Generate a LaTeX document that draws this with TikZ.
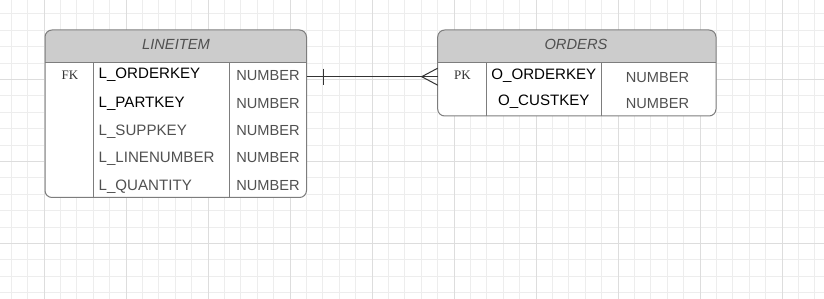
\documentclass[tikz,border=0pt]{standalone}
\usepackage{fontspec}
\newfontfamily\erfont{Liberation Sans}
\newfontfamily\keyfont{Liberation Serif}
\usepackage{tikz}
\usetikzlibrary{positioning, calc}
\definecolor{grisMalla}{RGB}{237,237,237}
\definecolor{grisMallaFuerte}{RGB}{221,221,221}
\definecolor{grisBorde}{RGB}{125,125,125}
\definecolor{grisCabecera}{RGB}{204,204,204}
\definecolor{grisTexto}{RGB}{80,80,80}
\definecolor{grisOscuro}{RGB}{51,51,51}
\tikzset{
  er/table/.style={rectangle, draw=grisBorde, fill=white, rounded corners=7pt,
    line width=1pt, inner sep=0pt, outer sep=0pt, anchor=north west,
    path picture={\fill[grisCabecera, sharp corners]
      (path picture bounding box.north west) rectangle
      ([yshift=-32.3pt]path picture bounding box.north east);}},
  er/rule/.style={draw=grisBorde, line width=0.9pt},
  er/head/.style={font=\erfont\itshape\fontsize{14.7}{17}\selectfont,
    text=grisTexto, anchor=base, inner sep=0pt},
  er/key/.style={font=\keyfont\fontsize{13}{15}\selectfont,
    text=grisOscuro, anchor=base, inner sep=0pt},
  er/name/.style={font=\erfont\fontsize{15.1}{17}\selectfont,
    text=black, anchor=base west, inner sep=0pt},
  er/namec/.style={er/name, anchor=base},
  er/type/.style={font=\erfont\fontsize{14.6}{17}\selectfont,
    text=grisTexto, anchor=base, inner sep=0pt},
  er/link/.style={draw=grisOscuro, line width=1pt},
  grid/minor/.style={draw=grisMalla, line width=0.7pt},
  grid/major/.style={draw=grisMallaFuerte, line width=0.9pt}
}

\begin{document}
\begin{tikzpicture}[x=1pt, y=-1pt]
  \useasboundingbox[fill=white] (0,0) rectangle (824,299);
  % malla de fondo
  \foreach \i in {0,...,49}
    \draw[grid/minor] ({11.2+16.4*\i},0) -- ++(0,299);
  \foreach \j in {0,...,17}
    \draw[grid/minor] (0,{13.7+16.4*\j}) -- ++(824,0);
  \foreach \i in {0,...,9}
    \draw[grid/major] ({44+82*\i},0) -- ++(0,299);
  \foreach \j in {79.3,161.3,243.3}
    \draw[grid/major] (0,\j) -- ++(824,0);

  % tabla LINEITEM
  \node[er/table, minimum width=261.5pt, minimum height=167.5pt] (li) at (45,30) {};
  \draw[er/rule] ([yshift=-32.3pt]li.north west) -- ([yshift=-32.3pt]li.north east);
  \draw[er/rule] ([xshift=48.3pt,yshift=-32.3pt]li.north west) -- ([xshift=48.3pt]li.south west);
  \draw[er/rule] ([xshift=184pt,yshift=-32.3pt]li.north west) -- ([xshift=184pt]li.south west);
  \node[er/head] (li-h) at (176,50) {LINEITEM};
  \node[er/key] (li-fk) at (70,80) {FK};
  \node[er/name] (li-n1) at (98.5,78.7) {L\_ORDERKEY};
  \node[er/name] (li-n2) at (98.5,108) {L\_PARTKEY};
  \node[er/name, text=grisTexto] (li-n3) at (98.5,135.5) {L\_SUPPKEY};
  \node[er/name, text=grisTexto] (li-n4) at (98.5,162.3) {L\_LINENUMBER};
  \node[er/name, text=grisTexto] (li-n5) at (98.5,190) {L\_QUANTITY};
  \node[er/type] (li-t1) at (268,81) {NUMBER};
  \node[er/type] (li-t2) at (268,108.3) {NUMBER};
  \node[er/type] (li-t3) at (268,135.7) {NUMBER};
  \node[er/type] (li-t4) at (268,162.3) {NUMBER};
  \node[er/type] (li-t5) at (268,190) {NUMBER};

  % tabla ORDERS
  \node[er/table, minimum width=278.3pt, minimum height=86pt] (or) at (437.7,30) {};
  \draw[er/rule] ([yshift=-32.3pt]or.north west) -- ([yshift=-32.3pt]or.north east);
  \draw[er/rule] ([xshift=49pt,yshift=-32.3pt]or.north west) -- ([xshift=49pt]or.south west);
  \draw[er/rule] ([xshift=164pt,yshift=-32.3pt]or.north west) -- ([xshift=164pt]or.south west);
  \node[er/head] (or-h) at (576,50) {ORDERS};
  \node[er/key] (or-pk) at (462.5,80) {PK};
  \node[er/namec] (or-n1) at (543.8,79.3) {O\_ORDERKEY};
  \node[er/namec] (or-n2) at (543.8,106) {O\_CUSTKEY};
  \node[er/type] (or-t1) at (657.5,82.3) {NUMBER};
  \node[er/type] (or-t2) at (657.5,108.3) {NUMBER};

  % relacion uno a muchos
  \coordinate (li-out) at (306.5,76.7);
  \coordinate (or-in) at (437.7,76.7);
  \draw[er/link] (li-out) -- (or-in);
  \draw[er/link] ([xshift=17pt,yshift=8pt]li-out) -- ([xshift=17pt,yshift=-8pt]li-out);
  \draw[er/link] ([xshift=-16pt]or-in) -- ([yshift=8.5pt]or-in);
  \draw[er/link] ([xshift=-16pt]or-in) -- ([yshift=-8.5pt]or-in);
\end{tikzpicture}
\end{document}
